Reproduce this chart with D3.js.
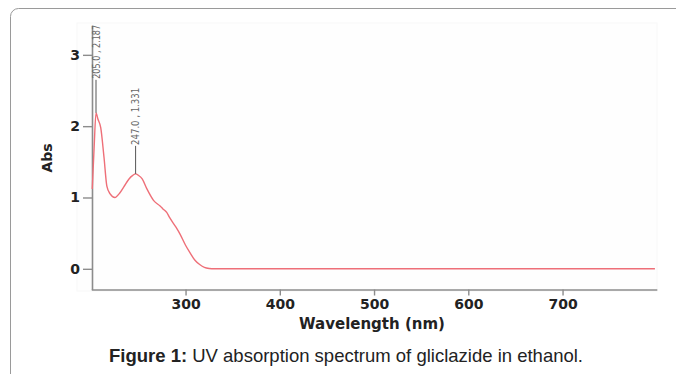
<!DOCTYPE html>
<html>
<head>
<meta charset="utf-8">
<script src="https://cdn.jsdelivr.net/npm/d3@7"></script>
<style>
  html, body { margin: 0; padding: 0; background: #fff; }
  svg { display: block; }
</style>
</head>
<body>
<svg id="chart" width="676" height="374"></svg>
<script>
// UV absorption spectrum of gliclazide in ethanol
const wavelengths = [201, 203, 205, 207, 210, 213.5, 216.5, 220, 225, 230, 234.5, 240, 244, 247, 250, 254, 259, 266, 273, 276, 280, 283, 290, 294, 300, 305, 310, 315, 320, 325, 331, 400, 500, 600, 700, 798];
const absorbance  = [1.12, 1.70, 2.187, 2.10, 1.98, 1.56, 1.16, 1.05, 1.00, 1.06, 1.15, 1.26, 1.31, 1.331, 1.31, 1.26, 1.12, 0.96, 0.88, 0.84, 0.79, 0.72, 0.58, 0.49, 0.33, 0.22, 0.12, 0.06, 0.02, 0.005, 0, 0, 0, 0, 0, 0];

// Peak annotations (wavelength, absorbance)
const peakWavelengths = [205.0, 247.0];
const peakAbsorbance  = [2.187, 1.331];

const xTicks = [300, 400, 500, 600, 700];
const yTicks = [0, 1, 2, 3];

const svg = d3.select("#chart");

// outer figure frame
svg.append("rect")
  .attr("x", 10.5).attr("y", 8.5)
  .attr("width", 720).attr("height", 420)
  .attr("rx", 8).attr("ry", 8)
  .attr("fill", "none")
  .attr("stroke", "#9a9a9a")
  .attr("stroke-width", 1);

const x = d3.scaleLinear().domain([200, 800]).range([91.3, 656.8]);
const y = d3.scaleLinear().domain([-0.29, 3.41]).range([289.5, 25.6]);

// faint plot panel
svg.append("rect")
  .attr("x", 77).attr("y", 23)
  .attr("width", 580).attr("height", 268)
  .attr("fill", "#fefefe")
  .attr("stroke", "#f8f8f8");

const axisColor = "#8c8c8c";

// X axis
const xAxis = svg.append("g")
  .attr("transform", `translate(0,${y.range()[0]})`)
  .call(d3.axisBottom(x).tickValues(xTicks).tickSize(6).tickPadding(4).tickSizeOuter(0));
xAxis.select(".domain").attr("stroke", axisColor).attr("stroke-width", 1.6);
xAxis.selectAll(".tick line").attr("stroke", axisColor).attr("stroke-width", 1.4);
xAxis.selectAll(".tick text")
  .attr("fill", "#222")
  .style("font-family", "'DejaVu Sans', sans-serif")
  .style("font-weight", "bold")
  .style("font-size", "14px");

// Y axis
const yAxis = svg.append("g")
  .attr("transform", `translate(${x.range()[0] + 0.7},0)`)
  .call(d3.axisLeft(y).tickValues(yTicks).tickFormat(d3.format("d")).tickSize(9).tickPadding(3).tickSizeOuter(0));
yAxis.select(".domain").attr("stroke", axisColor).attr("stroke-width", 1.6);
yAxis.selectAll(".tick line").attr("stroke", axisColor).attr("stroke-width", 1.4);
yAxis.selectAll(".tick text")
  .attr("fill", "#222")
  .style("font-family", "'DejaVu Sans', sans-serif")
  .style("font-weight", "bold")
  .style("font-size", "14px");

// axis titles
svg.append("text")
  .attr("x", 372).attr("y", 329)
  .attr("text-anchor", "middle")
  .attr("fill", "#222")
  .style("font-family", "'DejaVu Sans', sans-serif")
  .style("font-weight", "bold")
  .style("font-size", "15px")
  .text("Wavelength (nm)");

svg.append("text")
  .attr("transform", "translate(52,158) rotate(-90)")
  .attr("text-anchor", "middle")
  .attr("fill", "#222")
  .style("font-family", "'DejaVu Sans', sans-serif")
  .style("font-weight", "bold")
  .style("font-size", "14px")
  .text("Abs");

// spectrum
const pts = wavelengths.map((w, i) => [w, absorbance[i]]);
svg.append("path")
  .datum(pts)
  .attr("fill", "none")
  .attr("stroke", "#ee6f78")
  .attr("stroke-width", 1.4)
  .attr("d", d3.line().x(d => x(d[0])).y(d => y(d[1])).curve(d3.curveMonotoneX));

// peak markers: leader line up from the peak, rotated value label above it
const labelGap = [33, 28];
const labelLen = [54, 57];
peakWavelengths.forEach((w, i) => {
  const px = x(w), py = y(peakAbsorbance[i]);
  const top = py - labelGap[i];
  svg.append("line")
    .attr("x1", px).attr("x2", px)
    .attr("y1", py).attr("y2", top)
    .attr("stroke", "#555").attr("stroke-width", 1);
  svg.append("text")
    .attr("transform", `translate(${px + 3.5},${top - 1}) rotate(-90)`)
    .attr("fill", "#666")
    .attr("textLength", labelLen[i])
    .attr("lengthAdjust", "spacingAndGlyphs")
    .style("font-family", "'Liberation Sans Narrow', 'DejaVu Sans Condensed', sans-serif")
    .style("font-size", "10px")
    .text(`${w.toFixed(1)} , ${peakAbsorbance[i].toFixed(3)}`);
});

// caption
const cap = svg.append("text")
  .attr("x", 346).attr("y", 362)
  .attr("text-anchor", "middle")
  .attr("fill", "#222")
  .style("font-family", "'Liberation Sans', Arial, sans-serif")
  .style("font-size", "18.5px");
cap.append("tspan").style("font-weight", "bold").text("Figure 1:");
cap.append("tspan").text(" UV absorption spectrum of gliclazide in ethanol.");
</script>
</body>
</html>
